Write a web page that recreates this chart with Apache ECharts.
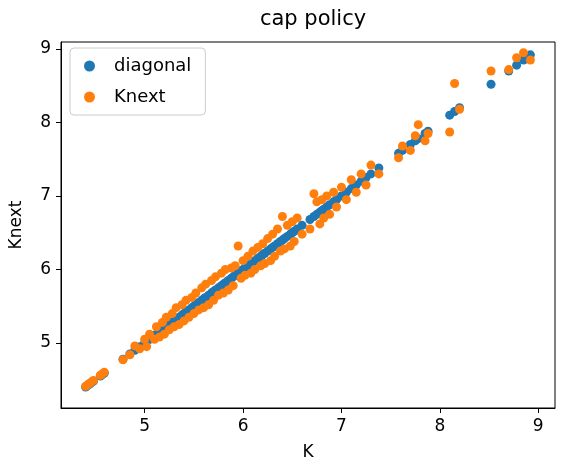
<!DOCTYPE html><html><head><meta charset="utf-8"><script src="https://cdn.jsdelivr.net/npm/echarts@6/dist/echarts.min.js"></script></head><body style="margin:0"><div id="c" style="width:564px;height:472px"></div><script>
const K=[4.40,4.42,4.44,4.46,4.48,4.55,4.57,4.59,4.78,4.85,4.90,4.95,5.00,5.02,5.05,5.10,5.12,5.15,5.18,5.20,5.22,5.25,5.28,5.30,5.32,5.35,5.38,5.40,5.42,5.45,5.48,5.50,5.52,5.55,5.58,5.60,5.62,5.65,5.68,5.70,5.72,5.75,5.78,5.80,5.82,5.85,5.88,5.90,5.92,5.95,5.98,6.00,6.02,6.05,6.08,6.10,6.12,6.15,6.18,6.20,6.22,6.25,6.28,6.30,6.32,6.35,6.38,6.40,6.42,6.45,6.48,6.50,6.52,6.55,6.60,6.68,6.72,6.75,6.78,6.80,6.82,6.85,6.88,6.92,6.95,7.00,7.05,7.10,7.15,7.20,7.25,7.30,7.38,7.58,7.62,7.70,7.78,7.75,7.85,7.88,8.10,8.15,8.20,8.52,8.70,8.78,8.85,8.92];
const Knext=[4.41,4.43,4.45,4.47,4.49,4.56,4.58,4.60,4.77,4.84,4.96,4.92,5.05,4.95,5.12,5.05,5.22,5.08,5.28,5.12,5.35,5.18,5.40,5.22,5.48,5.25,5.52,5.30,5.58,5.35,5.62,5.40,5.68,5.45,5.75,5.48,5.80,5.52,5.85,5.58,5.90,5.65,5.95,5.68,6.00,5.72,6.02,5.78,6.05,6.32,5.88,6.12,5.92,6.18,5.95,6.25,6.00,6.30,6.05,6.35,6.08,6.42,6.12,6.48,6.18,6.55,6.25,6.72,6.28,6.60,6.32,6.65,6.38,6.70,6.48,6.55,7.03,6.92,6.62,6.95,6.70,7.00,6.75,7.05,6.85,7.12,6.95,7.22,7.05,7.30,7.15,7.42,7.30,7.52,7.68,7.62,7.97,7.82,7.75,7.85,7.87,8.53,8.18,8.70,8.72,8.88,8.95,8.85];
const n=Math.min(K.length,Knext.length);
const diag=K.slice(0,n).map(k=>[k,k]);
const nxt=K.slice(0,n).map((k,i)=>[k,Knext[i]]);
const ax={color:'#000',fontSize:17,fontFamily:'DejaVu Sans'};
echarts.init(document.getElementById('c')).setOption({
animation:false,
title:{text:'cap policy',left:308,top:4,textAlign:'center',textStyle:{fontSize:21,fontWeight:'normal',color:'#000',fontFamily:'DejaVu Sans'}},
grid:{left:60,right:9,top:42,bottom:64,show:true,borderColor:'#000',borderWidth:1},
legend:{left:70,top:48,orient:'vertical',borderColor:'#ccc',borderWidth:1,borderRadius:4,padding:[9,14,9,14],itemGap:13,textStyle:{fontSize:18,color:'#000',fontFamily:'DejaVu Sans',padding:[0,0,0,14]},itemWidth:11,itemHeight:11,
data:[{name:'diagonal',icon:'circle'},{name:'Knext',icon:'circle'}]},
xAxis:{type:'value',min:4.15,max:9.17,interval:1,name:'K',nameLocation:'middle',nameGap:36,nameTextStyle:ax,
axisLabel:Object.assign({customValues:[5,6,7,8,9],margin:10},ax),axisTick:{customValues:[5,6,7,8,9],length:5,lineStyle:{color:'#000'}},axisLine:{lineStyle:{color:'#000'}},splitLine:{show:false}},
yAxis:{type:'value',min:4.115,max:9.095,name:'Knext',nameLocation:'middle',nameGap:36,nameTextStyle:ax,
axisLabel:Object.assign({customValues:[5,6,7,8,9],margin:10},ax),axisTick:{show:true,length:5,customValues:[5,6,7,8,9],lineStyle:{color:'#000'}},axisLine:{show:true,lineStyle:{color:'#000'}},splitLine:{show:false}},
series:[{name:'diagonal',type:'scatter',data:diag,symbolSize:9,itemStyle:{color:'#1f77b4',opacity:1}},
{name:'Knext',type:'scatter',data:nxt,symbolSize:9,itemStyle:{color:'#ff7f0e',opacity:1}}]
});
</script></body></html>
